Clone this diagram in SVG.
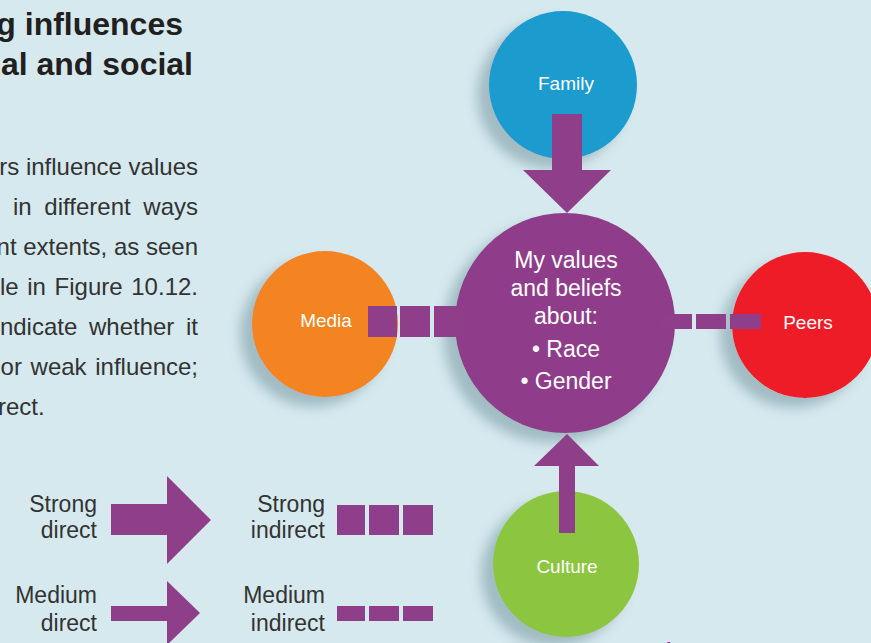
<svg xmlns="http://www.w3.org/2000/svg" width="871" height="643" viewBox="0 0 871 643">
<defs>
<style>
.title{font-family:"Liberation Sans",Arial,sans-serif;font-weight:bold;font-size:32px;fill:#231f20;text-anchor:end}
.body{font-family:"Liberation Sans",Arial,sans-serif;font-size:24px;fill:#333333;text-anchor:end}
.leg{font-family:"Liberation Sans",Arial,sans-serif;font-size:23px;fill:#333333;text-anchor:end}
.lbl{font-family:"Liberation Sans",Arial,sans-serif;font-size:19px;fill:#ffffff;text-anchor:middle}
.ctr{font-family:"Liberation Sans",Arial,sans-serif;font-size:23px;fill:#ffffff;text-anchor:middle}
.cap{font-family:"Liberation Sans",Arial,sans-serif;font-size:20px;font-weight:bold;font-style:italic;fill:#92278f}
.pur{fill:#8f3e8a}
</style>
<filter id="shadow" x="-30%" y="-30%" width="160%" height="160%">
<feGaussianBlur in="SourceAlpha" stdDeviation="6"/>
<feOffset dx="-12" dy="10" result="b"/>
<feFlood flood-color="#6f8f99" flood-opacity="0.5"/>
<feComposite in2="b" operator="in"/>
<feMerge><feMergeNode/><feMergeNode in="SourceGraphic"/></feMerge>
</filter>
</defs>
<rect x="0" y="0" width="871" height="643" fill="#d5e9ee"/>

<g id="title">
<text class="title" x="183" y="35">g influences</text>
<text class="title" x="193" y="75">al and social</text>
</g>

<g id="body-text">
<text class="body" x="198" y="175">rs influence values</text>
<text class="body" x="198" y="215" word-spacing="6">in different ways</text>
<text class="body" x="198" y="255">nt extents, as seen</text>
<text class="body" x="198" y="295" word-spacing="2">le in Figure 10.12.</text>
<text class="body" x="198" y="335" word-spacing="5">ndicate whether it</text>
<text class="body" x="198" y="375" word-spacing="2">or weak influence;</text>
<text class="body" x="-2" y="415" style="text-anchor:start">rect.</text>
</g>

<g id="legend">
<text class="leg" x="97" y="512">Strong</text>
<text class="leg" x="97" y="538">direct</text>
<polygon class="pur" points="111,504 167,504 167,476 211,520 167,564 167,535 111,535"/>
<text class="leg" x="325" y="512">Strong</text>
<text class="leg" x="325" y="538">indirect</text>
<rect class="pur" x="337" y="505" width="28" height="30"/>
<rect class="pur" x="369" y="505" width="30" height="30"/>
<rect class="pur" x="403" y="505" width="30" height="30"/>
<text class="leg" x="97" y="603">Medium</text>
<text class="leg" x="97" y="631">direct</text>
<polygon class="pur" points="111,606 167,606 167,581 200,613 167,645 167,621 111,621"/>
<text class="leg" x="325" y="603">Medium</text>
<text class="leg" x="325" y="631">indirect</text>
<rect class="pur" x="337" y="606" width="28" height="15"/>
<rect class="pur" x="369" y="606" width="30" height="15"/>
<rect class="pur" x="403" y="606" width="30" height="15"/>
</g>

<g id="family">
<circle cx="563" cy="85" r="74" fill="#1f9bcf" filter="url(#shadow)"/>
<text class="lbl" x="566" y="90">Family</text>
</g>
<g id="media">
<circle cx="325" cy="324" r="73" fill="#f48421" filter="url(#shadow)"/>
<text class="lbl" x="326" y="327">Media</text>
</g>
<g id="peers">
<circle cx="805" cy="325" r="73" fill="#ee1d26" filter="url(#shadow)"/>
<text class="lbl" x="808" y="329">Peers</text>
</g>
<g id="culture">
<circle cx="566" cy="564" r="73" fill="#8cc63f" filter="url(#shadow)"/>
<text class="lbl" x="567" y="573">Culture</text>
</g>
<g id="center">
<circle cx="565" cy="323" r="110" fill="#8f3e8a" filter="url(#shadow)"/>
<text class="ctr" x="566" y="268">My values</text>
<text class="ctr" x="566" y="296">and beliefs</text>
<text class="ctr" x="566" y="324">about:</text>
<text class="ctr" x="566" y="357">• Race</text>
<text class="ctr" x="566" y="389">• Gender</text>
</g>

<g id="connectors">
<polygon class="pur" points="552,114 582,114 582,170 611,170 567,213 523,170 552,170"/>
<rect class="pur" x="368" y="306" width="29" height="31"/>
<rect class="pur" x="400" y="306" width="30" height="31"/>
<rect class="pur" x="434" y="306" width="30" height="31"/>
<rect class="pur" x="662" y="314" width="30" height="15"/>
<rect class="pur" x="696" y="314" width="30" height="15"/>
<rect class="pur" x="730" y="314" width="31" height="15"/>
<polygon class="pur" points="559,533 575,533 575,466 599,466 567,434 534,466 559,466"/>
</g>

<text class="cap" x="652" y="657">Figure 10.12</text>
</svg>
